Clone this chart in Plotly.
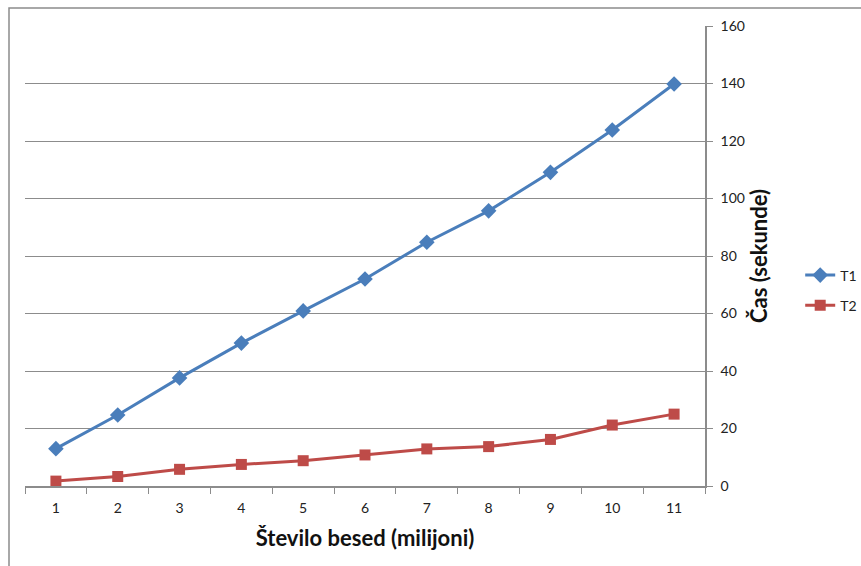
import plotly.graph_objects as go

categories = ["1", "2", "3", "4", "5", "6", "7", "8", "9", "10", "11"]
t1_values = [13, 24.7, 37.6, 49.7, 60.9, 72, 84.8, 95.7, 109.1, 123.8, 139.8]
t2_values = [1.7, 3.3, 5.8, 7.5, 8.8, 10.8, 12.9, 13.7, 16.2, 21.2, 25]
y_ticks = [0, 20, 40, 60, 80, 100, 120, 140, 160]

FONT = "Lato, 'Noto Sans', sans-serif"
GRID = "#8c8c8c"

fig = go.Figure()
fig.add_trace(go.Scatter(
    x=categories, y=t1_values, name="T1", mode="lines+markers", legendgroup="a",
    line=dict(color="#4a7ebb", width=3),
    marker=dict(symbol="diamond", size=12, color="#4a7ebb"),
))
fig.add_trace(go.Scatter(
    x=categories, y=t2_values, name="T2", mode="lines+markers", legendgroup="b",
    line=dict(color="#be4b48", width=3),
    marker=dict(symbol="square", size=11, color="#be4b48"),
))

fig.update_layout(
    width=861, height=566,
    margin=dict(l=25, r=156, t=26, b=80, autoexpand=False),
    paper_bgcolor="white", plot_bgcolor="white",
    font=dict(family=FONT, size=14, color="#222"),
    showlegend=True,
    legend=dict(x=1.14, y=0.425, xanchor="left", yanchor="middle",
                font=dict(size=14, color="#222"), traceorder="grouped", tracegroupgap=9,
                bgcolor="rgba(0,0,0,0)"),
    xaxis=dict(
        type="category", range=[-0.5, len(categories) - 0.5],
        tickson="boundaries", ticks="outside", ticklen=6,
        tickcolor=GRID, showline=True, linecolor=GRID, linewidth=1.5,
        showgrid=False, zeroline=False, automargin=False, ticklabelstandoff=8,
        tickfont=dict(size=14, color="#222"),
        title=dict(text="<b>Število besed (milijoni)</b>", font=dict(size=22, color="#111"), standoff=16),
    ),
    yaxis=dict(
        side="right", range=[0, 160], tickvals=y_ticks, ticks="outside", ticklen=6,
        tickcolor=GRID, showline=True, linecolor=GRID, linewidth=1.5,
        showgrid=True, gridcolor=GRID, gridwidth=1.2, zeroline=False,
        automargin=False, ticklabelstandoff=5,
        tickfont=dict(size=14, color="#222"),
        title=dict(text="<b>Čas (sekunde)</b>", font=dict(size=22, color="#111"), standoff=8),
    ),
)

fig.add_shape(type="rect", xref="paper", yref="paper",
              x0=(9 - 25) / 680, x1=2, y0=-1, y1=1 + (26 - 8) / 460,
              line=dict(color="#8c8c8c", width=1.5), layer="below")

fig.write_html("out.html")
